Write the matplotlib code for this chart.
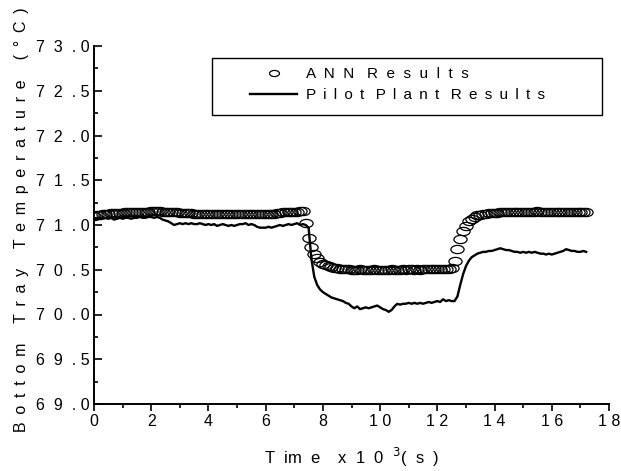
import matplotlib
matplotlib.use('Agg')
import matplotlib.pyplot as plt
import numpy as np
from matplotlib.path import Path
from matplotlib.patches import Rectangle
from matplotlib.ticker import MultipleLocator, FuncFormatter

plt.rcParams['font.family'] = ['Liberation Sans', 'DejaVu Sans']

# time axis (x10^3 s), one sample every 0.1
time = np.round(np.arange(0, 172.5) / 10, 1)

ann = [
    71.10, 71.11, 71.11, 71.12, 71.12, 71.12, 71.13, 71.13, 71.13, 71.13,
    71.13, 71.14, 71.14, 71.14, 71.14, 71.14, 71.15, 71.15, 71.15, 71.15,
    71.16, 71.16, 71.16, 71.16, 71.15, 71.15, 71.15, 71.15, 71.14, 71.14,
    71.13, 71.13, 71.13, 71.13, 71.13, 71.12, 71.12, 71.12, 71.12, 71.12,
    71.12, 71.12, 71.12, 71.12, 71.12, 71.12, 71.12, 71.12, 71.12, 71.12,
    71.12, 71.12, 71.12, 71.12, 71.12, 71.12, 71.12, 71.12, 71.12, 71.12,
    71.12, 71.12, 71.12, 71.12, 71.13, 71.13, 71.14, 71.14, 71.15, 71.15,
    71.15, 71.15, 71.16, 71.16, 71.02, 70.86, 70.75, 70.68, 70.63, 70.59,
    70.56, 70.55, 70.54, 70.53, 70.52, 70.52, 70.51, 70.51, 70.51, 70.51,
    70.50, 70.50, 70.50, 70.51, 70.50, 70.50, 70.50, 70.50, 70.51, 70.50,
    70.50, 70.50, 70.50, 70.50, 70.51, 70.50, 70.50, 70.50, 70.51, 70.50,
    70.51, 70.51, 70.50, 70.51, 70.50, 70.51, 70.51, 70.51, 70.51, 70.51,
    70.51, 70.51, 70.51, 70.51, 70.51, 70.52, 70.60, 70.73, 70.84, 70.93,
    70.99, 71.04, 71.07, 71.09, 71.11, 71.11, 71.12, 71.12, 71.13, 71.13,
    71.13, 71.13, 71.14, 71.14, 71.14, 71.14, 71.14, 71.14, 71.14, 71.14,
    71.14, 71.14, 71.15, 71.15, 71.15, 71.16, 71.15, 71.14, 71.14, 71.14,
    71.14, 71.14, 71.14, 71.14, 71.14, 71.14, 71.14, 71.14, 71.14, 71.14,
    71.14, 71.14, 71.14,
]

pilot = [
    71.07, 71.08, 71.07, 71.08, 71.08, 71.07, 71.08, 71.06, 71.07, 71.08,
    71.07, 71.08, 71.08, 71.07, 71.08, 71.08, 71.09, 71.08, 71.08, 71.09,
    71.09, 71.08, 71.09, 71.08, 71.06, 71.05, 71.04, 71.02, 71.00, 71.01,
    71.02, 71.01, 71.02, 71.01, 71.02, 71.01, 71.01, 71.02, 71.01, 71.00,
    71.01, 71.00, 71.01, 70.99, 71.00, 71.01, 71.00, 70.99, 71.00, 70.99,
    71.00, 71.01, 71.01, 71.02, 71.00, 71.01, 71.00, 70.98, 70.97, 70.97,
    70.97, 70.98, 70.97, 70.98, 70.99, 71.00, 70.99, 71.00, 71.01, 71.00,
    71.01, 71.02, 71.00, 71.01, 71.00, 70.97, 70.62, 70.42, 70.33, 70.28,
    70.25, 70.23, 70.21, 70.19, 70.18, 70.17, 70.16, 70.15, 70.13, 70.12,
    70.09, 70.07, 70.09, 70.06, 70.07, 70.08, 70.07, 70.08, 70.09, 70.10,
    70.08, 70.06, 70.05, 70.03, 70.05, 70.09, 70.12, 70.11, 70.12, 70.12,
    70.13, 70.12, 70.13, 70.12, 70.13, 70.12, 70.13, 70.14, 70.13, 70.14,
    70.15, 70.14, 70.17, 70.15, 70.16, 70.15, 70.15, 70.20, 70.33, 70.45,
    70.54, 70.60, 70.64, 70.66, 70.68, 70.69, 70.70, 70.70, 70.71, 70.71,
    70.72, 70.73, 70.74, 70.73, 70.72, 70.72, 70.71, 70.70, 70.70, 70.69,
    70.70, 70.69, 70.70, 70.69, 70.70, 70.69, 70.68, 70.68, 70.67, 70.68,
    70.67, 70.68, 70.69, 70.70, 70.71, 70.73, 70.72, 70.71, 70.71, 70.70,
    70.70, 70.71, 70.70,
]


def spaced(text):
    # old-style letter spaced y tick text: "7  3  . 0"
    return '  '.join(text[:-2]) + '  ' + ' '.join(text[-2:])


def tracked(text, sep, word):
    return word.join(sep.join(w) for w in text.split(' '))


# flattened circle marker, like the original plot
circ = Path.unit_circle()
ellipse = Path(circ.vertices * [1.0, 0.62], circ.codes)

fig = plt.figure(figsize=(6.21, 4.71), dpi=100)
ax = fig.add_axes([94 / 621, 1 - 404 / 471, 515 / 621, 358 / 471])

ax.plot(time, ann, linestyle='none', marker=ellipse, markersize=9.5,
        markerfacecolor='none', markeredgecolor='black', markeredgewidth=0.9,
        label=tracked('ANN Results', '  ', '   '))
ax.plot(time, pilot, color='black', linewidth=1.7,
        label=tracked('Pilot Plant Results', ' \u2009', ' \u2009 '))

ax.set_xlim(0, 18)
ax.set_ylim(69.0, 73.0)
ax.xaxis.set_major_locator(MultipleLocator(2))
ax.xaxis.set_minor_locator(MultipleLocator(1))
ax.yaxis.set_major_locator(MultipleLocator(0.5))
ax.yaxis.set_minor_locator(MultipleLocator(0.25))
ax.xaxis.set_major_formatter(FuncFormatter(lambda v, p: ' '.join('%d' % v)))
ax.yaxis.set_major_formatter(FuncFormatter(lambda v, p: spaced('%.1f' % v)))

for s in ['top', 'right']:
    ax.spines[s].set_visible(False)
for s in ['left', 'bottom']:
    ax.spines[s].set_linewidth(1.4)

ax.tick_params(axis='x', which='major', direction='out', length=5, width=1.2,
               labelsize=11.5, pad=2)
ax.tick_params(axis='x', which='minor', direction='out', length=3, width=1.2)
ax.tick_params(axis='y', which='major', direction='in', length=6, width=1.2,
               labelsize=11.5, pad=3)
ax.tick_params(axis='y', which='minor', direction='in', length=3, width=1.2)

ax.set_xlabel('T  im  e    x  1  0  $^{3}$(  s  )', fontsize=12)
ax.xaxis.set_label_coords(0.5, -0.118)
ax.set_ylabel(tracked('Bottom Tray Temperature (°C)', ' \u2009', ' \u2009 \u2009 '),
              fontsize=11.5)
ax.yaxis.set_label_coords(-0.126, 0.515)

leg = ax.legend(loc='upper left', bbox_to_anchor=(250 / 621, 1 - 67 / 471),
                bbox_transform=fig.transFigure, borderaxespad=0, borderpad=0,
                fontsize=11, frameon=False, handlelength=3.1,
                handletextpad=0.55, markerscale=0.75, labelspacing=0.45)
fig.patches.append(Rectangle((212 / 621, 1 - 115 / 471), 390 / 621, 57 / 471,
                             transform=fig.transFigure, fill=False,
                             edgecolor='black', linewidth=1.0))

fig.savefig('out.png', dpi=100)
